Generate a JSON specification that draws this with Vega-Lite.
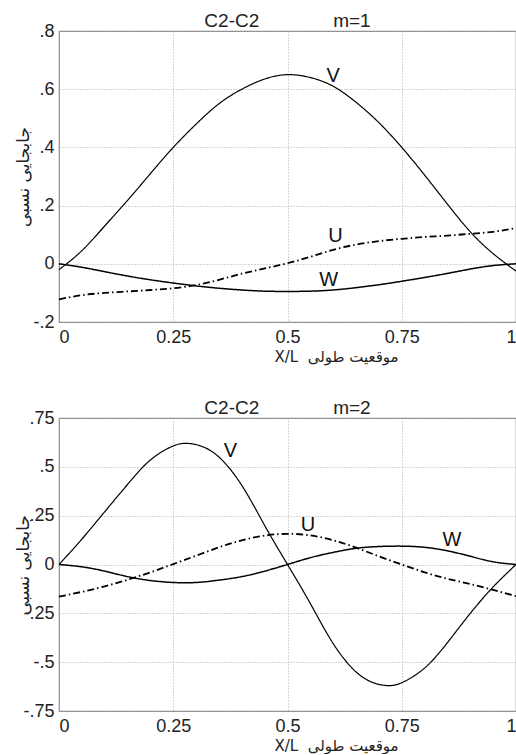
{
  "$schema": "https://vega.github.io/schema/vega-lite/v6.json",
  "padding": {"left": 13, "top": 11, "right": 0, "bottom": 0},
  "background": "white",
  "spacing": 33,
  "config": {
    "font": "Liberation Sans",
    "view": {"stroke": "#888", "strokeWidth": 1.2},
    "axis": {
      "grid": true, "gridColor": "#aaa", "gridDash": [1, 2], "gridWidth": 1,
      "domain": false, "ticks": false,
      "labelFont": "Liberation Sans", "labelFontSize": 18, "labelColor": "#222",
      "titleFont": "DejaVu Sans", "titleFontWeight": "normal", "titleColor": "#222", "titleFontSize": 15
    },
    "title": {"font": "Liberation Sans", "fontSize": 19, "fontWeight": "normal", "color": "#222", "offset": -9}
  },
  "datasets": {
    "m1": [
      {"x": 0, "y": -0.02, "c": "V"}, {"x": 0.05, "y": 0.045, "c": "V"}, {"x": 0.1, "y": 0.13, "c": "V"}, {"x": 0.15, "y": 0.218, "c": "V"}, {"x": 0.2, "y": 0.31, "c": "V"}, {"x": 0.25, "y": 0.4, "c": "V"}, {"x": 0.3, "y": 0.48, "c": "V"}, {"x": 0.35, "y": 0.55, "c": "V"}, {"x": 0.4, "y": 0.6, "c": "V"}, {"x": 0.45, "y": 0.635, "c": "V"}, {"x": 0.5, "y": 0.65, "c": "V"}, {"x": 0.55, "y": 0.64, "c": "V"}, {"x": 0.6, "y": 0.61, "c": "V"}, {"x": 0.65, "y": 0.555, "c": "V"}, {"x": 0.7, "y": 0.485, "c": "V"}, {"x": 0.75, "y": 0.4, "c": "V"}, {"x": 0.8, "y": 0.305, "c": "V"}, {"x": 0.85, "y": 0.205, "c": "V"}, {"x": 0.9, "y": 0.11, "c": "V"}, {"x": 0.95, "y": 0.035, "c": "V"}, {"x": 1, "y": -0.025, "c": "V"},
      {"x": 0, "y": 0, "c": "W"}, {"x": 0.05, "y": -0.012, "c": "W"}, {"x": 0.1, "y": -0.027, "c": "W"}, {"x": 0.15, "y": -0.042, "c": "W"}, {"x": 0.2, "y": -0.055, "c": "W"}, {"x": 0.25, "y": -0.066, "c": "W"}, {"x": 0.3, "y": -0.076, "c": "W"}, {"x": 0.35, "y": -0.084, "c": "W"}, {"x": 0.4, "y": -0.09, "c": "W"}, {"x": 0.45, "y": -0.094, "c": "W"}, {"x": 0.5, "y": -0.095, "c": "W"}, {"x": 0.55, "y": -0.094, "c": "W"}, {"x": 0.6, "y": -0.09, "c": "W"}, {"x": 0.65, "y": -0.082, "c": "W"}, {"x": 0.7, "y": -0.072, "c": "W"}, {"x": 0.75, "y": -0.06, "c": "W"}, {"x": 0.8, "y": -0.047, "c": "W"}, {"x": 0.85, "y": -0.033, "c": "W"}, {"x": 0.9, "y": -0.018, "c": "W"}, {"x": 0.95, "y": -0.006, "c": "W"}, {"x": 1, "y": 0, "c": "W"},
      {"x": 0, "y": -0.122, "c": "U"}, {"x": 0.05, "y": -0.108, "c": "U"}, {"x": 0.1, "y": -0.1, "c": "U"}, {"x": 0.15, "y": -0.095, "c": "U"}, {"x": 0.2, "y": -0.09, "c": "U"}, {"x": 0.25, "y": -0.084, "c": "U"}, {"x": 0.3, "y": -0.073, "c": "U"}, {"x": 0.35, "y": -0.055, "c": "U"}, {"x": 0.4, "y": -0.034, "c": "U"}, {"x": 0.45, "y": -0.016, "c": "U"}, {"x": 0.5, "y": 0.002, "c": "U"}, {"x": 0.55, "y": 0.024, "c": "U"}, {"x": 0.6, "y": 0.048, "c": "U"}, {"x": 0.65, "y": 0.066, "c": "U"}, {"x": 0.7, "y": 0.078, "c": "U"}, {"x": 0.75, "y": 0.086, "c": "U"}, {"x": 0.8, "y": 0.092, "c": "U"}, {"x": 0.85, "y": 0.097, "c": "U"}, {"x": 0.9, "y": 0.103, "c": "U"}, {"x": 0.95, "y": 0.11, "c": "U"}, {"x": 1, "y": 0.123, "c": "U"}
    ],
    "m1lab": [
      {"x": 0.6, "y": 0.645, "t": "V"}, {"x": 0.605, "y": 0.095, "t": "U"}, {"x": 0.59, "y": -0.055, "t": "W"}
    ],
    "m2": [
      {"x": 0, "y": 0, "c": "V"}, {"x": 0.05, "y": 0.13, "c": "V"}, {"x": 0.1, "y": 0.27, "c": "V"}, {"x": 0.15, "y": 0.41, "c": "V"}, {"x": 0.2, "y": 0.535, "c": "V"}, {"x": 0.25, "y": 0.607, "c": "V"}, {"x": 0.28, "y": 0.62, "c": "V"}, {"x": 0.31, "y": 0.607, "c": "V"}, {"x": 0.35, "y": 0.55, "c": "V"}, {"x": 0.4, "y": 0.405, "c": "V"}, {"x": 0.45, "y": 0.2, "c": "V"}, {"x": 0.5, "y": 0, "c": "V"}, {"x": 0.55, "y": -0.2, "c": "V"}, {"x": 0.6, "y": -0.405, "c": "V"}, {"x": 0.65, "y": -0.55, "c": "V"}, {"x": 0.69, "y": -0.607, "c": "V"}, {"x": 0.72, "y": -0.62, "c": "V"}, {"x": 0.75, "y": -0.605, "c": "V"}, {"x": 0.8, "y": -0.53, "c": "V"}, {"x": 0.85, "y": -0.4, "c": "V"}, {"x": 0.9, "y": -0.25, "c": "V"}, {"x": 0.95, "y": -0.115, "c": "V"}, {"x": 1, "y": 0, "c": "V"},
      {"x": 0, "y": 0, "c": "W"}, {"x": 0.05, "y": -0.012, "c": "W"}, {"x": 0.1, "y": -0.034, "c": "W"}, {"x": 0.15, "y": -0.062, "c": "W"}, {"x": 0.2, "y": -0.082, "c": "W"}, {"x": 0.25, "y": -0.092, "c": "W"}, {"x": 0.3, "y": -0.092, "c": "W"}, {"x": 0.35, "y": -0.08, "c": "W"}, {"x": 0.4, "y": -0.062, "c": "W"}, {"x": 0.45, "y": -0.034, "c": "W"}, {"x": 0.5, "y": 0, "c": "W"}, {"x": 0.55, "y": 0.035, "c": "W"}, {"x": 0.6, "y": 0.062, "c": "W"}, {"x": 0.65, "y": 0.083, "c": "W"}, {"x": 0.7, "y": 0.092, "c": "W"}, {"x": 0.75, "y": 0.094, "c": "W"}, {"x": 0.8, "y": 0.088, "c": "W"}, {"x": 0.85, "y": 0.07, "c": "W"}, {"x": 0.9, "y": 0.042, "c": "W"}, {"x": 0.95, "y": 0.014, "c": "W"}, {"x": 1, "y": 0, "c": "W"},
      {"x": 0, "y": -0.165, "c": "U"}, {"x": 0.05, "y": -0.14, "c": "U"}, {"x": 0.1, "y": -0.112, "c": "U"}, {"x": 0.15, "y": -0.078, "c": "U"}, {"x": 0.2, "y": -0.04, "c": "U"}, {"x": 0.25, "y": 0.002, "c": "U"}, {"x": 0.3, "y": 0.045, "c": "U"}, {"x": 0.35, "y": 0.088, "c": "U"}, {"x": 0.4, "y": 0.124, "c": "U"}, {"x": 0.45, "y": 0.148, "c": "U"}, {"x": 0.5, "y": 0.157, "c": "U"}, {"x": 0.55, "y": 0.149, "c": "U"}, {"x": 0.6, "y": 0.124, "c": "U"}, {"x": 0.65, "y": 0.086, "c": "U"}, {"x": 0.7, "y": 0.042, "c": "U"}, {"x": 0.75, "y": 0, "c": "U"}, {"x": 0.8, "y": -0.04, "c": "U"}, {"x": 0.85, "y": -0.073, "c": "U"}, {"x": 0.9, "y": -0.1, "c": "U"}, {"x": 0.95, "y": -0.13, "c": "U"}, {"x": 1, "y": -0.162, "c": "U"}
    ],
    "m2lab": [
      {"x": 0.375, "y": 0.58, "t": "V"}, {"x": 0.545, "y": 0.2, "t": "U"}, {"x": 0.86, "y": 0.125, "t": "W"}
    ]
  },
  "vconcat": [
    {
      "width": 457, "height": 291,
      "title": {"text": "C2-C2\u00a0\u00a0\u00a0\u00a0\u00a0\u00a0\u00a0\u00a0\u00a0\u00a0\u00a0\u00a0\u00a0\u00a0m=1", "anchor": "middle", "frame": "group"},
      "layer": [
        {
          "data": {"name": "m1"},
          "mark": {"type": "line", "interpolate": "natural", "color": "black"},
          "encoding": {
            "x": {"field": "x", "type": "quantitative", "scale": {"domain": [0, 1], "nice": false},
              "axis": {"values": [0, 0.25, 0.5, 0.75, 1], "labelExpr": "'' + datum.value", "labelPadding": 6, "title": "X/L\u00a0\u00a0موقعیت طولی", "titleX": 277, "titleY": 34, "titleBaseline": "middle"}},
            "y": {"field": "y", "type": "quantitative", "scale": {"domain": [-0.2, 0.8], "nice": false},
              "axis": {"values": [-0.2, 0, 0.2, 0.4, 0.6, 0.8], "labelExpr": "datum.value == 0 ? '0' : replace(replace(format(datum.value, '.2~f'), '0.', '.'), '\u2212', '-')", "labelPadding": 5, "title": "جابجایی نسبی", "titleFontSize": 17, "titleX": -36, "titleBaseline": "middle"}},
            "detail": {"field": "c"},
            "strokeDash": {"field": "c", "type": "nominal", "scale": {"domain": ["V", "W", "U"], "range": [[1, 0], [1, 0], [7, 3, 1.5, 3]]}, "legend": null},
            "strokeWidth": {"field": "c", "type": "nominal", "scale": {"domain": ["V", "W", "U"], "range": [1.2, 1.8, 1.2]}, "legend": null}
          }
        },
        {
          "data": {"name": "m1lab"},
          "mark": {"type": "text", "fontSize": 20, "font": "Liberation Sans", "color": "#111"},
          "encoding": {
            "x": {"field": "x", "type": "quantitative"},
            "y": {"field": "y", "type": "quantitative"},
            "text": {"field": "t"}
          }
        }
      ]
    },
    {
      "width": 457, "height": 293,
      "title": {"text": "C2-C2\u00a0\u00a0\u00a0\u00a0\u00a0\u00a0\u00a0\u00a0\u00a0\u00a0\u00a0\u00a0\u00a0\u00a0m=2", "anchor": "middle", "frame": "group"},
      "layer": [
        {
          "data": {"name": "m2"},
          "mark": {"type": "line", "interpolate": "natural", "color": "black"},
          "encoding": {
            "x": {"field": "x", "type": "quantitative", "scale": {"domain": [0, 1], "nice": false},
              "axis": {"values": [0, 0.25, 0.5, 0.75, 1], "labelExpr": "'' + datum.value", "labelPadding": 6, "title": "X/L\u00a0\u00a0موقعیت طولی", "titleX": 277, "titleY": 34, "titleBaseline": "middle"}},
            "y": {"field": "y", "type": "quantitative", "scale": {"domain": [-0.75, 0.75], "nice": false},
              "axis": {"values": [-0.75, -0.5, -0.25, 0, 0.25, 0.5, 0.75], "labelExpr": "datum.value == 0 ? '0' : replace(replace(format(datum.value, '.2~f'), '0.', '.'), '\u2212', '-')", "labelPadding": 5, "title": "جابجایی نسبی", "titleFontSize": 17, "titleX": -36, "titleBaseline": "middle"}},
            "detail": {"field": "c"},
            "strokeDash": {"field": "c", "type": "nominal", "scale": {"domain": ["V", "W", "U"], "range": [[1, 0], [1, 0], [7, 3, 1.5, 3]]}, "legend": null},
            "strokeWidth": {"field": "c", "type": "nominal", "scale": {"domain": ["V", "W", "U"], "range": [1.2, 1.8, 1.2]}, "legend": null}
          }
        },
        {
          "data": {"name": "m2lab"},
          "mark": {"type": "text", "fontSize": 20, "font": "Liberation Sans", "color": "#111"},
          "encoding": {
            "x": {"field": "x", "type": "quantitative"},
            "y": {"field": "y", "type": "quantitative"},
            "text": {"field": "t"}
          }
        }
      ]
    }
  ]
}
